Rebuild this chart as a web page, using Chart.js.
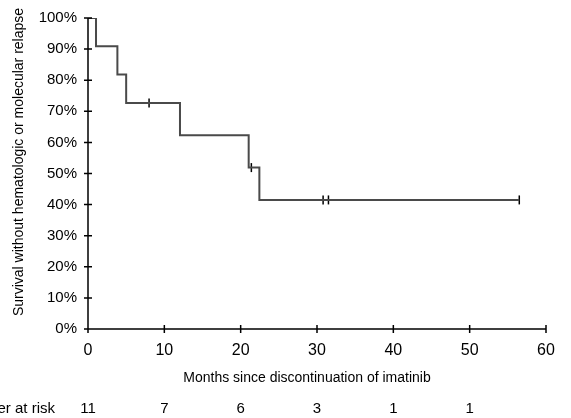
<!DOCTYPE html>
<html>
<head>
<meta charset="utf-8">
<script src="https://cdn.jsdelivr.net/npm/chart.js@4"></script>
<style>
  html, body { margin: 0; padding: 0; background: #fff; }
  #wrap { position: relative; width: 571px; height: 418px; }
</style>
</head>
<body>
<div id="wrap"><canvas id="km"></canvas></div>
<script>
// Kaplan-Meier steps (months, survival %)
const stepMonths = [0, 1.05, 3.85, 5.0, 12.05, 21.05, 22.45, 56.5];
const stepSurvival = [100, 90.9, 81.8, 72.7, 62.3, 51.9, 41.5, 41.5];

// censored observations
const censorMonths = [8.0, 21.4, 30.8, 31.5, 56.5];
const censorSurvival = [72.7, 51.9, 41.5, 41.5, 41.5];

// number at risk row
const riskMonths = [0, 10, 20, 30, 40, 50];
const riskCounts = [11, 7, 6, 3, 1, 1];

const FONT = "'Liberation Sans', Arial, sans-serif";

// axes with ticks crossing the axis line, titles and the at-risk row
const axesPlugin = {
  id: "kmAxes",
  afterDraw(chart) {
    const { ctx, chartArea, scales } = chart;
    const x = scales.x, y = scales.y;
    ctx.save();
    ctx.strokeStyle = "#000";
    ctx.lineWidth = 1.5;
    ctx.beginPath();
    ctx.moveTo(chartArea.left, chartArea.top);
    ctx.lineTo(chartArea.left, chartArea.bottom);
    ctx.lineTo(chartArea.right, chartArea.bottom);
    x.ticks.forEach(t => {
      const px = x.getPixelForValue(t.value);
      ctx.moveTo(px, chartArea.bottom - 4);
      ctx.lineTo(px, chartArea.bottom + 4);
    });
    y.ticks.forEach(t => {
      const py = y.getPixelForValue(t.value);
      ctx.moveTo(chartArea.left - 4, py);
      ctx.lineTo(chartArea.left + 4, py);
    });
    ctx.stroke();

    ctx.fillStyle = "#000";
    ctx.textBaseline = "middle";
    ctx.font = "14px " + FONT;
    ctx.textAlign = "center";
    ctx.fillText("Months since discontinuation of imatinib", 307, 378);

    ctx.save();
    ctx.translate(19, 162);
    ctx.rotate(-Math.PI / 2);
    ctx.fillText("Survival without hematologic or molecular relapse", 0, 0);
    ctx.restore();

    ctx.font = "15px " + FONT;
    const rowY = 409;
    ctx.textAlign = "right";
    ctx.fillText("Number at risk", 55, rowY);
    ctx.textAlign = "center";
    riskMonths.forEach((m, i) => {
      ctx.fillText(String(riskCounts[i]), x.getPixelForValue(m), rowY);
    });
    ctx.restore();
  }
};

new Chart(document.getElementById("km"), {
  type: "line",
  data: {
    datasets: [
      {
        data: stepMonths.map((m, i) => ({ x: m, y: stepSurvival[i] })),
        stepped: "before",
        borderColor: "#4a4a4a",
        borderWidth: 2,
        pointRadius: 0,
        fill: false
      },
      {
        type: "scatter",
        data: censorMonths.map((m, i) => ({ x: m, y: censorSurvival[i] })),
        pointStyle: "line",
        rotation: 90,
        pointRadius: 4.5,
        borderColor: "#000",
        borderWidth: 1.5,
        backgroundColor: "#000"
      }
    ]
  },
  options: {
    responsive: true,
    maintainAspectRatio: false,
    animation: false,
    layout: { padding: { top: 18, right: 25, left: 0, bottom: 0 } },
    plugins: { legend: { display: false }, tooltip: { enabled: false } },
    scales: {
      x: {
        type: "linear",
        min: 0,
        max: 60,
        border: { display: false },
        grid: { display: false },
        ticks: { stepSize: 10, color: "#000", font: { family: FONT, size: 16 }, padding: 4 },
        afterFit(scale) { scale.height = 89; }
      },
      y: {
        min: 0,
        max: 100,
        border: { display: false },
        grid: { display: false },
        ticks: {
          stepSize: 10,
          color: "#000",
          font: { family: FONT, size: 15 },
          padding: 3,
          callback: v => v + "%"
        },
        afterFit(scale) { scale.width = 88; }
      }
    }
  },
  plugins: [axesPlugin]
});
</script>
</body>
</html>
